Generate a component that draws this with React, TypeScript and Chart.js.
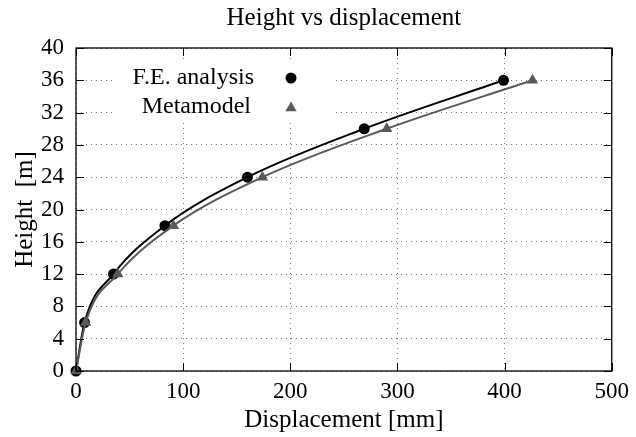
import React, { useEffect, useRef } from "react";
import { Chart, registerables } from "chart.js";

Chart.register(...registerables);

const chartTitle = "Height vs displacement";
const xTitle = "Displacement [mm]";
const yTitle = "Height  [m]";
const seriesNames = ["F.E. analysis", "Metamodel"];

const feDisp = [0, 8, 35, 83, 160, 269, 399];
const feHeight = [0, 6, 12, 18, 24, 30, 36];
const metaDisp = [0, 9, 39, 91, 174, 290, 426];
const metaHeight = [0, 6, 12, 18, 24, 30, 36];

const xMin = 0, xMax = 500, xStep = 100;
const yMin = 0, yMax = 40, yStep = 4;

const FONT = "'Liberation Serif', 'DejaVu Serif', serif";
const META_COLOR = "#5a5a5a";

function drawTriangle(ctx: CanvasRenderingContext2D, x: number, y: number, r: number) {
  let rad = 0;
  ctx.beginPath();
  ctx.moveTo(x + Math.sin(rad) * r, y - Math.cos(rad) * r);
  rad += (2 * Math.PI) / 3;
  ctx.lineTo(x + Math.sin(rad) * r, y - Math.cos(rad) * r);
  rad += (2 * Math.PI) / 3;
  ctx.lineTo(x + Math.sin(rad) * r, y - Math.cos(rad) * r);
  ctx.closePath();
  ctx.fill();
}

const framePlugin = {
  id: "frameAndLegend",
  afterDatasetsDraw(chart: any) {
    const { ctx, chartArea } = chart;
    const { left, top, right, bottom } = chartArea;
    ctx.save();
    // legend (opaque key)
    const lx = left + 215;
    const ly1 = top + 30;
    const ly2 = top + 59;
    ctx.fillStyle = "#ffffff";
    ctx.fillRect(left + 40, top + 15, 218, 60);
    ctx.font = `24px ${FONT}`;
    ctx.fillStyle = "#000";
    ctx.textAlign = "right";
    ctx.textBaseline = "middle";
    ctx.fillText(seriesNames[0], lx - 37, ly1);
    ctx.fillText(seriesNames[1], lx - 40, ly2);
    ctx.beginPath();
    ctx.arc(lx, ly1, 5.5, 0, Math.PI * 2);
    ctx.fillStyle = "#000";
    ctx.fill();
    ctx.fillStyle = META_COLOR;
    drawTriangle(ctx, lx, ly2 + 1, 6.5);

    // frame
    ctx.strokeStyle = "#000";
    ctx.lineWidth = 1.3;
    ctx.strokeRect(left, top, right - left, bottom - top);
    // inward ticks
    const xs = chart.scales.x;
    const ys = chart.scales.y;
    const tl = 8;
    ctx.beginPath();
    for (let v = xMin; v <= xMax; v += xStep) {
      const px = Math.round(xs.getPixelForValue(v)) + 0.5;
      ctx.moveTo(px, bottom);
      ctx.lineTo(px, bottom - tl);
      ctx.moveTo(px, top);
      ctx.lineTo(px, top + tl);
    }
    for (let v = yMin; v <= yMax; v += yStep) {
      const py = Math.round(ys.getPixelForValue(v)) + 0.5;
      ctx.moveTo(left, py);
      ctx.lineTo(left + tl, py);
      ctx.moveTo(right, py);
      ctx.lineTo(right - tl, py);
    }
    ctx.lineWidth = 1;
    ctx.stroke();
    ctx.restore();
  },
};

export default function App() {
  const canvasRef = useRef<HTMLCanvasElement | null>(null);

  useEffect(() => {
    const canvas = canvasRef.current;
    if (!canvas) return;
    const chart = new Chart(canvas, {
      type: "line",
      data: {
        datasets: [
          {
            label: seriesNames[0],
            data: feDisp.map((x, i) => ({ x, y: feHeight[i] })),
            borderColor: "#000",
            backgroundColor: "#000",
            borderWidth: 2,
            pointStyle: "circle",
            pointRadius: 5.5,
            pointBorderWidth: 0,
            pointBackgroundColor: "#000",
            cubicInterpolationMode: "monotone",
            clip: false,
            order: 1,
          } as any,
          {
            label: seriesNames[1],
            data: metaDisp.map((x, i) => ({ x, y: metaHeight[i] })),
            borderColor: META_COLOR,
            backgroundColor: META_COLOR,
            borderWidth: 2,
            pointStyle: "triangle",
            pointRadius: 6.5,
            pointBorderWidth: 0,
            pointBackgroundColor: META_COLOR,
            cubicInterpolationMode: "monotone",
            clip: false,
            order: 0,
          } as any,
        ],
      },
      options: {
        responsive: false,
        animation: false,
        layout: { padding: { left: 0, right: 24, top: 0, bottom: 0 } },
        plugins: {
          legend: { display: false },
          tooltip: { enabled: false },
          title: {
            display: true,
            text: chartTitle,
            fullSize: false,
            color: "#000",
            font: { family: FONT, size: 25, weight: "normal" },
            padding: { top: 3, bottom: 15 },
          },
        },
        scales: {
          x: {
            type: "linear",
            min: xMin,
            max: xMax,
            afterFit: (s: any) => {
              s.height = 66;
            },
            ticks: {
              stepSize: xStep,
              color: "#000",
              font: { family: FONT, size: 23 },
              padding: 7,
              maxRotation: 0,
            },
            grid: { color: "#777777", lineWidth: 1, drawTicks: false },
            border: { display: false, dash: [1, 4] },
            title: {
              display: true,
              text: xTitle,
              color: "#000",
              font: { family: FONT, size: 25 },
              padding: { top: 0, bottom: 2 },
            },
          },
          y: {
            type: "linear",
            min: yMin,
            max: yMax,
            afterFit: (s: any) => {
              s.width = 76;
            },
            ticks: {
              stepSize: yStep,
              color: "#000",
              font: { family: FONT, size: 23 },
              padding: 12,
            },
            grid: { color: "#777777", lineWidth: 1, drawTicks: false },
            border: { display: false, dash: [1, 4] },
            title: {
              display: true,
              text: yTitle,
              color: "#000",
              font: { family: FONT, size: 25 },
              padding: { top: 10, bottom: 0 },
            },
          },
        },
      },
      plugins: [framePlugin],
    });
    return () => chart.destroy();
  }, []);

  return (
    <div style={{ position: "absolute", left: 0, top: 0, width: 636, height: 437, background: "#fff" }}>
      <canvas ref={canvasRef} width={636} height={437} />
    </div>
  );
}
